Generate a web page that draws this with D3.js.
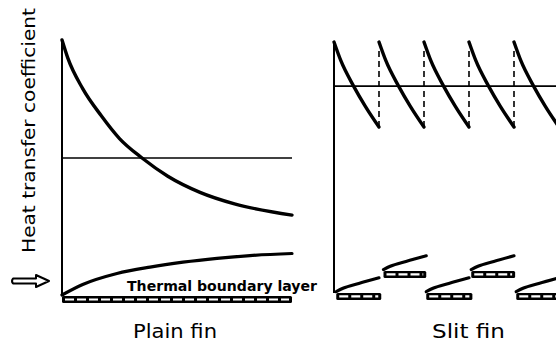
<!DOCTYPE html>
<html><head><meta charset="utf-8">
<script src="https://cdn.jsdelivr.net/npm/d3@7"></script>
<style>html,body{margin:0;padding:0;background:#fff;}svg{display:block;}</style>
</head><body>
<script>
// ---------- data ----------
// Plain fin: local heat transfer coefficient along the fin (x: 0..10 fin length, y: 0..10 relative)
const plainX = [0, 0.25, 0.9, 1.7, 2.5, 3.48, 4.6, 6.0, 7.5, 10];
const plainH = [10, 9.3, 8.1, 7.05, 6.15, 5.39, 4.68, 4.05, 3.6, 3.16];
const plainMean = 5.39;
// Plain fin thermal boundary layer thickness
const plainBLX = [0, 0.9, 2.39, 3.83, 5.26, 6.74, 8.17, 10];
const plainBLY = [0.04, 0.45, 0.88, 1.13, 1.32, 1.47, 1.58, 1.66];
// Slit fin: one segment of the saw-tooth (relative x inside one strip) and strip starts
const slitSegX = [0, 0.3, 0.87, 1.4, 2.0];
const slitSegH = [9.92, 9.2, 8.2, 7.4, 6.6];
const slitStarts = [0, 2, 4, 6, 8];
const slitMean = 8.2;
const slitDashX = [2, 4, 6, 8];
// Slit fin strips (offset rows)
const stripStart = [0.1, 2.2, 4.1, 6.1, 8.1];
const stripEnd   = [2.1, 4.1, 6.15, 8.05, 10.2];
const stripLevel = [0.12, 0.98, 0.12, 0.98, 0.12];
// Boundary layer growth on each strip (relative x, rise)
const stripBLX = [0, 0.3, 1.0, 1.9];
const stripBLY = [0, 0.13, 0.32, 0.54];
// labels
const yLabel = "Heat transfer coefficient";
const blLabel = "Thermal boundary layer";
const panelLabels = ["Plain fin", "Slit fin"];

// ---------- drawing ----------
const W = 556, H = 345;
const svg = d3.select("body").append("svg").attr("width", W).attr("height", H);
const font = "'DejaVu Sans Condensed','DejaVu Sans',sans-serif";

const y = d3.scaleLinear().domain([0, 10]).range([296, 40]);
const xL = d3.scaleLinear().domain([0, 10]).range([62, 292]);
const xR = d3.scaleLinear().domain([0, 10]).range([334, 559]);

const line = (xs, sx) => d3.line().x((d, i) => sx(xs[i])).y(d => y(d)).curve(d3.curveMonotoneX);

// ----- left panel -----
svg.append("line").attr("x1", xL(0)).attr("x2", xL(0)).attr("y1", y(0)).attr("y2", y(10) + 2)
  .attr("stroke", "#000").attr("stroke-width", 2);
svg.append("line").attr("x1", xL(0)).attr("x2", xL(10)).attr("y1", y(plainMean)).attr("y2", y(plainMean))
  .attr("stroke", "#000").attr("stroke-width", 1.6);
svg.append("path").attr("d", line(plainX, xL)(plainH))
  .attr("fill", "none").attr("stroke", "#000").attr("stroke-width", 3.4).attr("stroke-linecap", "round");
svg.append("path").attr("d", line(plainBLX, xL)(plainBLY))
  .attr("fill", "none").attr("stroke", "#000").attr("stroke-width", 3.2).attr("stroke-linecap", "round");
function plate(x0, x1, top) {
  svg.append("rect").attr("x", x0).attr("y", top).attr("width", x1 - x0).attr("height", 7)
    .attr("fill", "#000").attr("rx", 1.5);
  svg.append("line").attr("x1", x0 + 3).attr("x2", x1 - 3).attr("y1", top + 3.5).attr("y2", top + 3.5)
    .attr("stroke", "#fff").attr("stroke-width", 2.2).attr("stroke-dasharray", "9,3");
}
plate(xL(0), xL(10), y(0));

svg.append("text").attr("x", 127).attr("y", 291).text(blLabel)
  .attr("font-family", font).attr("font-size", 14).attr("font-weight", "bold")
  .attr("textLength", 190).attr("lengthAdjust", "spacingAndGlyphs");

// ----- right panel -----
svg.append("line").attr("x1", xR(0)).attr("x2", xR(0)).attr("y1", y(0.12)).attr("y2", y(10) + 1)
  .attr("stroke", "#000").attr("stroke-width", 2);
svg.append("line").attr("x1", xR(0)).attr("x2", W).attr("y1", y(slitMean)).attr("y2", y(slitMean))
  .attr("stroke", "#000").attr("stroke-width", 1.6);
slitDashX.forEach(d => {
  svg.append("line").attr("x1", xR(d)).attr("x2", xR(d)).attr("y1", y(slitSegH[slitSegH.length - 1])).attr("y2", y(9.7))
    .attr("stroke", "#000").attr("stroke-width", 1.6).attr("stroke-dasharray", "6,4");
});
slitStarts.forEach(s => {
  const xs = slitSegX.map(v => v + s);
  svg.append("path").attr("d", line(xs, xR)(slitSegH))
    .attr("fill", "none").attr("stroke", "#000").attr("stroke-width", 3.4).attr("stroke-linecap", "round");
});
stripStart.forEach((s, i) => {
  plate(xR(s), xR(stripEnd[i]), y(stripLevel[i]));
  const xs = stripBLX.map(v => v + s);
  const ys = stripBLY.map(v => v + stripLevel[i] + 0.05);
  svg.append("path").attr("d", line(xs, xR)(ys))
    .attr("fill", "none").attr("stroke", "#000").attr("stroke-width", 3.2).attr("stroke-linecap", "round");
});

// ----- labels -----
svg.append("text").attr("transform", "translate(35,253) rotate(-90)").text(yLabel)
  .attr("font-family", font).attr("font-size", 17).attr("textLength", 245).attr("lengthAdjust", "spacingAndGlyphs");
svg.append("path").attr("d", "M13,278.5 L36,278.5 L36,275 L49,281 L36,287 L36,283.5 L13,283.5 Q11,281 13,278.5 Z")
  .attr("fill", "#fff").attr("stroke", "#000").attr("stroke-width", 2).attr("stroke-linejoin", "round");

svg.append("text").attr("x", 133).attr("y", 338).text(panelLabels[0])
  .attr("font-family", font).attr("font-size", 19).attr("textLength", 84).attr("lengthAdjust", "spacingAndGlyphs");
svg.append("text").attr("x", 432).attr("y", 338).text(panelLabels[1])
  .attr("font-family", font).attr("font-size", 19).attr("textLength", 73).attr("lengthAdjust", "spacingAndGlyphs");
</script>
</body></html>
